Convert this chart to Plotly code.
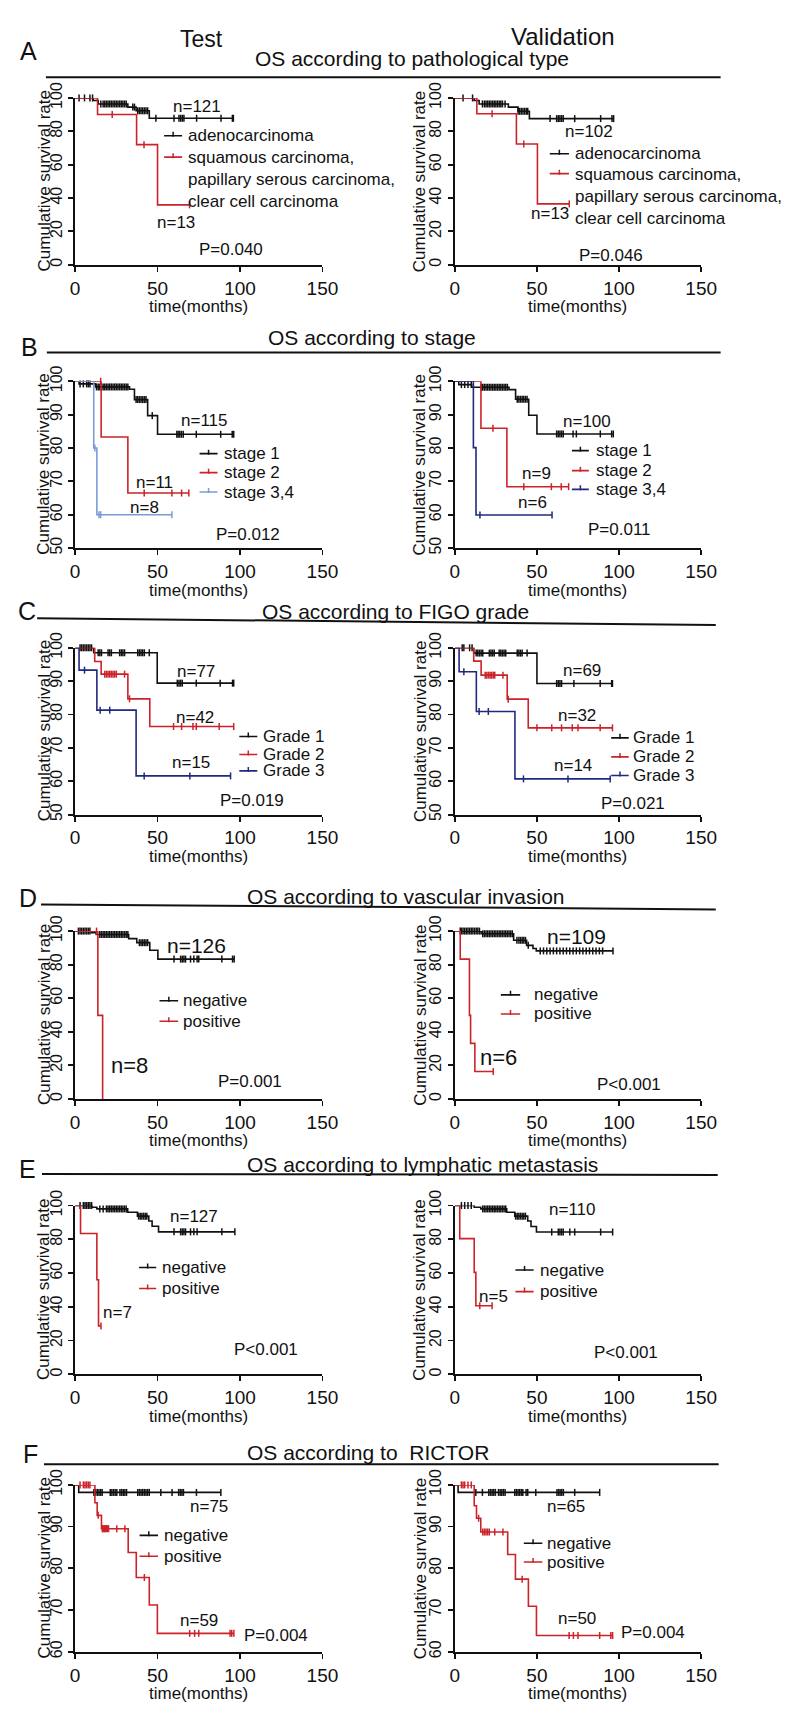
import plotly.graph_objects as go

# ============================ DATA ============================
# --- A: pathological type ---
A_legend = ["adenocarcinoma", "squamous carcinoma,<br>papillary serous carcinoma,<br>clear cell carcinoma"]
A_T_n = [121, 13]
A_T_p = "P=0.040"
A_T_adeno_time = [0, 11, 14, 32, 37, 45]
A_T_adeno_surv = [100, 98.5, 96.4, 94.5, 92.3, 87.8]
A_T_adeno_cens = [2.4, 5.7, 9, 10.6, 15.6, 17, 18, 19, 20, 21, 22, 23, 24, 25, 26, 27, 28, 29, 30, 31,
                  35, 36, 38, 39, 40, 41, 42, 43, 44, 49, 60, 63, 64, 65, 66, 73.7, 88.5, 95.4, 96]
A_T_squam_time = [0, 13.6, 37.3, 50]
A_T_squam_surv = [100, 90.1, 72, 35.9]
A_T_squam_cens = [22.5, 41.8, 69.4]

A_V_n = [102, 13]
A_V_p = "P=0.046"
A_V_adeno_time = [0, 11.8, 14.8, 32.6, 38.5, 45.4]
A_V_adeno_surv = [100, 98.5, 96.4, 94.5, 92, 87.6]
A_V_adeno_cens = [5, 10.8, 16.8, 18, 19, 20, 21, 22, 23, 24, 25, 26, 27, 28, 29, 30.6,
                  38.5, 39.5, 40.5, 41.5, 42.5, 43.5, 44.4, 58, 62, 63, 64, 65, 66, 73, 88.8, 95.7, 96.7]
A_V_squam_time = [0, 13.4, 37.5, 50.3]
A_V_squam_surv = [100, 90.5, 72.4, 36.5]
A_V_squam_cens = [22.7, 42, 69.7]

# --- B: stage ---
B_legend = ["stage 1", "stage 2", "stage 3,4"]
B_T_n = [115, 11, 8]
B_T_p = "P=0.012"
B_T_s1_time = [0, 2.4, 12.3, 33, 36, 44, 50]
B_T_s1_surv = [100, 99.2, 98.3, 97.6, 94.5, 89.7, 84.1]
B_T_s1_cens = [3, 5, 7, 8, 9, 13, 14, 15, 16, 17, 18, 19, 20, 21, 22, 23, 24, 25, 26, 27, 28, 29, 30, 31, 32,
               37, 38, 39, 40, 41, 42, 43, 46.8, 61.7, 62.5, 63.5, 64.5, 65.6, 73.5, 88.3, 95.3, 96.2]
B_T_s2_time = [0, 15.8, 32]
B_T_s2_surv = [100, 83.3, 66.5]
B_T_s2_cens = [15.5, 41.9, 58.7, 64.6, 69]
B_T_s3_time = [0, 11.3, 13.2]
B_T_s3_surv = [100, 80, 60]
B_T_s3_cens = [12, 14.5, 15.5, 58.7]

B_V_n = [100, 9, 6]
B_V_p = "P=0.011"
B_V_s1_time = [0, 2.4, 10.3, 33, 37, 45, 50]
B_V_s1_surv = [100, 99, 98.2, 97.5, 94.6, 89.8, 84.2]
B_V_s1_cens = [4, 6, 8, 10, 16, 17, 18, 19, 20, 21, 22, 23, 24, 25, 26, 27, 28, 29, 30, 31, 32,
               38, 39, 40, 41, 42, 43, 44, 62, 63, 64, 65, 66, 72, 74, 88.6, 95.5, 96.5]
B_V_s2_time = [0, 15.9, 31.7]
B_V_s2_surv = [100, 85.9, 68.4]
B_V_s2_cens = [23.2, 42, 58.8, 64.8, 69.3]
B_V_s3_time = [0, 11.3, 12.9]
B_V_s3_surv = [100, 80.1, 59.9]
B_V_s3_cens = [15.3, 59.2]

# --- C: FIGO grade ---
C_legend = ["Grade 1", "Grade 2", "Grade 3"]
C_T_n = [77, 42, 15]
C_T_p = "P=0.019"
C_T_g1_time = [0, 11.3, 49.8]
C_T_g1_surv = [100, 98.5, 89.4]
C_T_g1_cens = [3, 4, 5, 6, 7, 8, 9, 10, 14, 15, 16, 20, 21, 22, 27, 28, 29, 30,
               38, 39, 40, 41, 42, 45, 62, 63, 64, 65, 73.5, 88, 95.5, 96.2]
C_T_g2_time = [0, 11.9, 15.8, 32, 45.3]
C_T_g2_surv = [100, 95.9, 92.1, 84.7, 76.4]
C_T_g2_cens = [18, 19, 20, 21, 22, 23, 24, 25, 30, 33, 59.7, 64.6, 71.5, 73.5, 87.4, 96.2]
C_T_g3_time = [0, 2.4, 13.2, 37]
C_T_g3_surv = [100, 93.3, 81.3, 61.6]
C_T_g3_cens = [5.7, 15.2, 21, 41.9, 69.6, 94.3]

C_V_n = [69, 32, 14]
C_V_p = "P=0.021"
C_V_g1_time = [0, 11.5, 50]
C_V_g1_surv = [100, 98.4, 89.3]
C_V_g1_cens = [4.5, 5.5, 9, 10.5, 13, 14, 15, 16, 17, 21, 22, 23, 24, 27, 28, 29, 30, 31,
               38, 39, 40, 41, 44, 62, 63, 64, 65, 72.5, 88.5, 95.5, 96]
C_V_g2_time = [0, 11.5, 16, 31.9, 44.7]
C_V_g2_surv = [100, 96, 91.8, 84.6, 76]
C_V_g2_cens = [18.5, 19.5, 20.5, 21.5, 22.5, 23.5, 24.3, 29.3, 32.5, 50, 59, 65, 71.5, 75, 88.5, 96]
C_V_g3_time = [0, 2.6, 13.1, 36.6]
C_V_g3_surv = [100, 92.8, 80.9, 60.7]
C_V_g3_cens = [5.5, 14.8, 20.4, 41.8, 68.9, 94.6]

# --- D: vascular invasion ---
D_legend = ["negative", "positive"]
D_T_n = [126, 8]
D_T_p = "P=0.001"
D_T_neg_time = [0, 9.8, 12.8, 32.5, 37.4, 45.3, 50.2]
D_T_neg_surv = [100, 99, 98, 95.5, 93.1, 88.6, 83.3]
D_T_neg_cens = [2, 3, 4, 5, 6, 7, 8, 9, 15, 16, 17, 18, 19, 20, 21, 22, 23, 24, 25, 26, 27, 28, 29, 30, 31, 32,
                39, 40, 41, 42, 43, 44, 60, 64, 65, 66, 67, 70, 72, 74, 75, 89, 95.5, 96.5]
D_T_pos_time = [0, 13.8, 16.7]
D_T_pos_surv = [100, 49.8, 0]
D_T_pos_cens = [13]

D_V_n = [109, 6]
D_V_p = "P<0.001"
D_V_neg_time = [0, 16, 35.8, 43.7, 47.6, 49.6]
D_V_neg_surv = [100, 98.4, 94.5, 91.5, 89.6, 88.2]
D_V_neg_cens = [3.3, 4, 5, 6, 7, 8, 9, 10, 11, 12, 13, 14, 15, 17, 18, 19, 20, 21, 22, 23, 24, 25, 26, 27, 28,
                29, 30, 31, 32, 33, 34, 35, 37.8, 39, 40, 41, 42, 43, 44.7, 52, 54, 56, 58, 60, 62, 64, 66,
                68, 70, 72, 74, 76, 78, 80, 82, 84, 86, 88, 90, 96.3]
D_V_pos_time = [0, 3.3, 8.9, 9.6, 12.2]
D_V_pos_surv = [100, 83.3, 49.8, 33.1, 16.3]
D_V_pos_cens = [23.4]

# --- E: lymphatic metastasis ---
E_legend = ["negative", "positive"]
E_T_n = [127, 7]
E_T_p = "P<0.001"
E_T_neg_time = [0, 10.2, 13.2, 31.9, 37.8, 44.7, 46.7, 50.6]
E_T_neg_surv = [100, 99, 98, 96, 93.7, 90.8, 87.7, 84.4]
E_T_neg_cens = [3, 5, 6, 7, 8, 9, 10, 15, 17, 19, 20, 21, 22, 23, 24, 25, 26, 27, 28, 29, 30, 31,
                38.5, 39.5, 40.5, 41.5, 42.5, 43.5, 60, 64, 65, 66, 67, 70, 72, 74, 89, 96.9]
E_T_pos_time = [0, 3.3, 13.2, 14.2]
E_T_pos_surv = [100, 83.4, 56, 28.7]
E_T_pos_cens = [15.7]

E_V_n = [110, 5]
E_V_p = "P<0.001"
E_V_neg_time = [0, 11.8, 15.8, 31.6, 36.5, 44.4, 46.4, 49.7]
E_V_neg_surv = [100, 99, 98, 96, 93.7, 90.8, 87.6, 84.3]
E_V_neg_cens = [4, 6, 8, 10, 17, 18, 19, 20, 21, 22, 23, 24, 25, 26, 27, 28, 29, 30, 31,
                37, 38, 39, 40, 41, 42, 43, 59, 63, 64, 65, 66, 70, 73, 88.8, 96.1]
E_V_pos_time = [0, 3, 11.8, 12.8]
E_V_pos_surv = [100, 80.4, 60.4, 40.6]
E_V_pos_cens = [15.2, 22.7]

# --- F: RICTOR ---
F_legend = ["negative", "positive"]
F_T_n = [75, 59]
F_T_p = "P=0.004"
F_T_neg_time = [0, 2.2]
F_T_neg_surv = [100, 98.2]
F_T_neg_cens = [11.4, 12.5, 13.5, 14.5, 15.5, 16.4, 21.3, 22.3, 23.3, 24.3, 25.3, 27.2, 28.2, 29.2, 30.2, 31.2,
                38, 39, 40, 41, 42, 43, 44, 45, 52, 58.8, 62.8, 63.8, 64.8, 65.7, 73.6, 88.4]
F_T_pos_time = [0, 12, 13.4, 16, 32.2, 37.1, 45, 49.9]
F_T_pos_surv = [100, 95.7, 92.7, 89.5, 83.8, 77.8, 71.2, 64.4]
F_T_pos_cens = [3, 5, 6, 7, 8, 9, 14, 16.5, 17, 17.5, 18, 18.5, 19, 19.5, 20.3, 25.3, 30.2, 42,
                69.5, 72.5, 75, 94, 95, 96.3]

F_V_n = [65, 50]
F_V_p = "P=0.004"
F_V_neg_time = [0, 2]
F_V_neg_surv = [100, 98.2]
F_V_neg_cens = [12.8, 16.8, 20.7, 21.7, 22.7, 23.7, 24.7, 26.6, 27.6, 28.6, 29.6, 30.6, 36.5, 37.5, 38.5,
                39.5, 40.5, 41.4, 43.4, 44.4, 49.3, 62.2, 63.2, 64.1, 65.1, 66.1, 73, 88.2]
F_V_pos_time = [0, 11.8, 13.2, 15.8, 32.2, 36.9, 44.8, 49.7]
F_V_pos_surv = [100, 95, 92, 88.7, 83.3, 77.4, 70.9, 63.9]
F_V_pos_cens = [4, 5, 6, 8, 10, 14.5, 17, 18, 19, 20, 21, 24.3, 29.3, 41, 69.6, 72.2, 75, 88.2, 95, 96.1]

X_TICKS = [0, 50, 100, 150]
COL_TITLES = ["Test", "Validation"]
SECTION_TITLES = ["OS according to pathological type", "OS according to stage",
                  "OS according to FIGO grade", "OS according to vascular invasion",
                  "OS according to lymphatic metastasis", "OS according to \u00a0RICTOR"]
LETTERS = ["A", "B", "C", "D", "E", "F"]

# ============================ STYLE / LAYOUT ============================
W, H = 797, 1713
FONT = "Liberation Sans, Arial, sans-serif"
BLACK = "#111111"
RED = "#cc2229"
LBLUE = "#7b9bd8"
NAVY = "#1f2a7c"

COLS = {"T": (72, 326), "V": (462, 715)}
ROWS = {"A": (83, 252), "B": (370, 539), "C": (640, 809),
        "D": (927, 1097), "E": (1205, 1376), "F": (1488, 1657)}
YR = {"A": (0, 100, 20), "B": (50, 100, 10), "C": (50, 100, 10),
      "D": (0, 100, 20), "E": (0, 100, 20), "F": (60, 100, 10)}

panels = [
    dict(row="A", col="T", series=[(A_T_adeno_time, A_T_adeno_surv, A_T_adeno_cens, BLACK),
                                   (A_T_squam_time, A_T_squam_surv, A_T_squam_cens, RED)],
         legend=(A_legend, 54, 64.9, 67.4, [77.3, 64.5]),
         nlab=[(A_T_n[0], 73.7, 95, 17), (A_T_n[1], 61, 25.4, 17)], p=(A_T_p, 94.4, 8.9)),
    dict(row="A", col="V", series=[(A_V_adeno_time, A_V_adeno_surv, A_V_adeno_cens, BLACK),
                                   (A_V_squam_time, A_V_squam_surv, A_V_squam_cens, RED)],
         legend=(A_legend, 57.8, 69.5, 72, [66.5, 54.6]),
         nlab=[(A_V_n[0], 81.5, 79.9, 17), (A_V_n[1], 58.2, 31, 17)], p=(A_V_p, 95.3, 5.7)),
    dict(row="B", col="T", series=[(B_T_s1_time, B_T_s1_surv, B_T_s1_cens, BLACK),
                                   (B_T_s2_time, B_T_s2_surv, B_T_s2_cens, RED),
                                   (B_T_s3_time, B_T_s3_surv, B_T_s3_cens, LBLUE)],
         legend=(B_legend, 75.5, 86.4, 88.9, [78.3, 72.6, 66.8]),
         nlab=[(B_T_n[0], 77.9, 88.2, 17), (B_T_n[1], 48.2, 69.7, 17), (B_T_n[2], 41.9, 62.1, 17)],
         p=(B_T_p, 105, 54.2)),
    dict(row="B", col="V", series=[(B_V_s1_time, B_V_s1_surv, B_V_s1_cens, BLACK),
                                   (B_V_s2_time, B_V_s2_surv, B_V_s2_cens, RED),
                                   (B_V_s3_time, B_V_s3_surv, B_V_s3_cens, NAVY)],
         legend=(B_legend, 71.3, 81.6, 84.6, [79.2, 73.2, 67.6]),
         nlab=[(B_V_n[0], 80.6, 88, 17), (B_V_n[1], 49.9, 72.3, 17), (B_V_n[2], 47.6, 63.6, 17)],
         p=(B_V_p, 100.5, 55.5)),
    dict(row="C", col="T", series=[(C_T_g1_time, C_T_g1_surv, C_T_g1_cens, BLACK),
                                   (C_T_g2_time, C_T_g2_surv, C_T_g2_cens, RED),
                                   (C_T_g3_time, C_T_g3_surv, C_T_g3_cens, NAVY)],
         legend=(C_legend, 99.6, 110.5, 113, [73.4, 68.0, 63.1]),
         nlab=[(C_T_n[0], 73.5, 92.9, 17), (C_T_n[1], 72.5, 79, 17), (C_T_n[2], 70, 65.7, 17)],
         p=(C_T_p, 107.5, 54.2)),
    dict(row="C", col="V", series=[(C_V_g1_time, C_V_g1_surv, C_V_g1_cens, BLACK),
                                   (C_V_g2_time, C_V_g2_surv, C_V_g2_cens, RED),
                                   (C_V_g3_time, C_V_g3_surv, C_V_g3_cens, NAVY)],
         legend=(C_legend, 95.2, 105.9, 107.5, [73.0, 67.3, 61.7]),
         nlab=[(C_V_n[0], 77.4, 93.1, 17), (C_V_n[1], 74.2, 79.6, 17), (C_V_n[2], 71.8, 64.6, 17)],
         p=(C_V_p, 108.4, 53.3)),
    dict(row="D", col="T", series=[(D_T_neg_time, D_T_neg_surv, D_T_neg_cens, BLACK),
                                   (D_T_pos_time, D_T_pos_surv, D_T_pos_cens, RED)],
         legend=(D_legend, 51.2, 62.5, 64, [58.5, 46.3]),
         nlab=[(D_T_n[0], 73.8, 91.5, 21), (D_T_n[1], 32.9, 19.7, 22)], p=(D_T_p, 106.3, 10.2)),
    dict(row="D", col="V", series=[(D_V_neg_time, D_V_neg_surv, D_V_neg_cens, BLACK),
                                   (D_V_pos_time, D_V_pos_surv, D_V_pos_cens, RED)],
         legend=(D_legend, 28, 39.8, 46.7, [62.0, 50.6]),
         nlab=[(D_V_n[0], 74.2, 96.9, 21), (D_V_n[1], 26.6, 24.6, 22)], p=(D_V_p, 106.1, 8.3)),
    dict(row="E", col="T", series=[(E_T_neg_time, E_T_neg_surv, E_T_neg_cens, BLACK),
                                   (E_T_pos_time, E_T_pos_surv, E_T_pos_cens, RED)],
         legend=(E_legend, 38.8, 49.2, 51.6, [63.3, 50.8]),
         nlab=[(E_T_n[0], 72.2, 93.6, 17), (E_T_n[1], 25.6, 36.9, 17)], p=(E_T_p, 116, 14.6)),
    dict(row="E", col="V", series=[(E_V_neg_time, E_V_neg_surv, E_V_neg_cens, BLACK),
                                   (E_V_pos_time, E_V_pos_surv, E_V_pos_cens, RED)],
         legend=(E_legend, 36.9, 48, 50.9, [61.8, 49.0]),
         nlab=[(E_V_n[0], 71.6, 97.5, 17), (E_V_n[1], 23.7, 46.1, 17)], p=(E_V_p, 104, 12.7)),
    dict(row="F", col="T", series=[(F_T_neg_time, F_T_neg_surv, F_T_neg_cens, BLACK),
                                   (F_T_pos_time, F_T_pos_surv, F_T_pos_cens, RED)],
         legend=(F_legend, 39.1, 50.3, 52.9, [87.9, 82.9]),
         nlab=[(F_T_n[0], 81.5, 94.9, 17), (F_T_n[1], 75.2, 67.4, 17)], p=(F_T_p, 122, 63.9)),
    dict(row="F", col="V", series=[(F_V_neg_time, F_V_neg_surv, F_V_neg_cens, BLACK),
                                   (F_V_pos_time, F_V_pos_surv, F_V_pos_cens, RED)],
         legend=(F_legend, 42, 53.3, 54.9, [86.0, 81.5]),
         nlab=[(F_V_n[0], 67.7, 94.9, 17), (F_V_n[1], 74.4, 67.9, 17)], p=(F_V_p, 120.4, 64.5)),
]


def surv_at(times, survs, t):
    v = survs[0]
    for ti, si in zip(times, survs):
        if ti <= t:
            v = si
    return v


fig = go.Figure()
annotations = []
shapes = []
layout_axes = {}

for k, pnl in enumerate(panels, start=1):
    xa = "x" if k == 1 else f"x{k}"
    ya = "y" if k == 1 else f"y{k}"
    xkey = "xaxis" if k == 1 else f"xaxis{k}"
    ykey = "yaxis" if k == 1 else f"yaxis{k}"
    cx0, cx1 = COLS[pnl["col"]]
    ry0, ry1 = ROWS[pnl["row"]]
    ymin, ymax, dt = YR[pnl["row"]]

    layout_axes[xkey] = dict(
        domain=[cx0 / W, cx1 / W], anchor=ya, range=[0, 150], tickvals=X_TICKS,
        ticks="outside", ticklen=5, tickwidth=1.8, tickcolor=BLACK,
        showline=True, linewidth=2, linecolor=BLACK, showgrid=False, zeroline=False,
        tickfont=dict(size=19, color=BLACK, family=FONT), ticklabelstandoff=0, fixedrange=True)
    layout_axes[ykey] = dict(
        domain=[1 - ry1 / H, 1 - ry0 / H], anchor=xa, range=[ymin, ymax], dtick=dt, tick0=ymin,
        ticks="outside", ticklen=5, tickwidth=1.8, tickcolor=BLACK, tickangle=-90,
        showline=True, linewidth=2, linecolor=BLACK, showgrid=False, zeroline=False,
        tickfont=dict(size=16, color=BLACK, family=FONT), fixedrange=True)

    for times, survs, cens, color in pnl["series"]:
        end = max(max(times), max(cens))
        fig.add_trace(go.Scatter(
            x=list(times) + [end], y=list(survs) + [survs[-1]], mode="lines",
            line=dict(color=color, width=1.6, shape="hv"),
            xaxis=xa, yaxis=ya, cliponaxis=False, hoverinfo="skip"))
        fig.add_trace(go.Scatter(
            x=cens, y=[surv_at(times, survs, c) for c in cens], mode="markers",
            marker=dict(symbol="line-ns", size=5, line=dict(color=color, width=1.5)),
            xaxis=xa, yaxis=ya, cliponaxis=False, hoverinfo="skip"))

    # legend (drawn manually)
    labels, lx0, lx1, tx, rows = pnl["legend"]
    for (times, survs, cens, color), lab, ly in zip(pnl["series"], labels, rows):
        shapes.append(dict(type="line", xref=xa, yref=ya, x0=lx0, x1=lx1, y0=ly, y1=ly,
                           line=dict(color=color, width=1.6)))
        shapes.append(dict(type="line", xref=xa, yref=ya, x0=(lx0 + lx1) / 2, x1=(lx0 + lx1) / 2,
                           ysizemode="pixel", yanchor=ly, y0=-1, y1=4,
                           line=dict(color=color, width=1.5)))
        multi = "<br>" in lab
        annotations.append(dict(xref=xa, yref=ya, x=tx, y=ly, text=lab, showarrow=False,
                                xanchor="left", yanchor="top" if multi else "middle",
                                yshift=11 if multi else 0, align="left",
                                font=dict(size=17, color=BLACK, family=FONT)))

    for n, x, y, sz in pnl["nlab"]:
        annotations.append(dict(xref=xa, yref=ya, x=x, y=y, text=f"n={n}", showarrow=False,
                                xanchor="center", yanchor="middle",
                                font=dict(size=sz, color=BLACK, family=FONT)))
    ptxt, px_, py_ = pnl["p"]
    annotations.append(dict(xref=xa, yref=ya, x=px_, y=py_, text=ptxt, showarrow=False,
                            xanchor="center", yanchor="middle",
                            font=dict(size=17, color=BLACK, family=FONT)))

    # axis titles
    annotations.append(dict(xref=f"{xa} domain", yref=f"{ya} domain", x=0.5, y=0, yshift=-42,
                            text="time(months)", showarrow=False, xanchor="center", yanchor="middle",
                            font=dict(size=17, color=BLACK, family=FONT)))
    annotations.append(dict(xref=f"{xa} domain", yref=f"{ya} domain", x=0, y=0.5,
                            xshift=-31 if pnl["col"] == "T" else -35,
                            text="Cumulative survival rate", showarrow=False, textangle=-90,
                            xanchor="center", yanchor="middle",
                            font=dict(size=17, color=BLACK, family=FONT)))

# column titles
for txt, (x, y, sz) in zip(COL_TITLES, [(202, 23, 23), (573, 21, 24)]):
    annotations.append(dict(xref="paper", yref="paper", x=x / W, y=1 - y / H, text=txt,
                            showarrow=False, xanchor="center", yanchor="middle",
                            font=dict(size=sz, color=BLACK, family=FONT)))

# letters, section titles, rules
LETTER_POS = [(24, 35), (25, 335), (23, 603), (24, 893), (23, 1168), (26, 1457)]
TITLE_POS = [(255, 43), (268, 326), (262, 603), (247, 892), (247, 1163), (247, 1455)]
RULES = [((42, 62), (735, 62)), ((43, 341), (735, 341)), ((33, 610), (730, 617)),
         ((37, 900), (730, 905)), ((38, 1173), (732, 1174)), ((40, 1467), (733, 1467))]
for let, (lx, lyy), tt, (tx_, ty_), ((ax0, ay0), (ax1, ay1)) in zip(LETTERS, LETTER_POS, SECTION_TITLES,
                                                                    TITLE_POS, RULES):
    annotations.append(dict(xref="paper", yref="paper", x=lx / W, y=1 - lyy / H, text=let,
                            showarrow=False, xanchor="center", yanchor="middle",
                            font=dict(size=25, color=BLACK, family=FONT)))
    annotations.append(dict(xref="paper", yref="paper", x=tx_ / W, y=1 - ty_ / H, text=tt,
                            showarrow=False, xanchor="left", yanchor="middle",
                            font=dict(size=21, color=BLACK, family=FONT)))
    shapes.append(dict(type="line", xref="paper", yref="paper", x0=ax0 / W, x1=ax1 / W,
                       y0=1 - ay0 / H, y1=1 - ay1 / H, line=dict(color=BLACK, width=2)))

fig.update_layout(
    width=W, height=H, margin=dict(l=0, r=0, t=0, b=0),
    paper_bgcolor="white", plot_bgcolor="white", showlegend=False,
    font=dict(family=FONT, color=BLACK),
    annotations=annotations, shapes=shapes, **layout_axes)

fig.write_html("out.html", config={"displayModeBar": False, "staticPlot": True},
               post_script="document.body.style.margin='0';document.body.style.overflow='hidden';")
